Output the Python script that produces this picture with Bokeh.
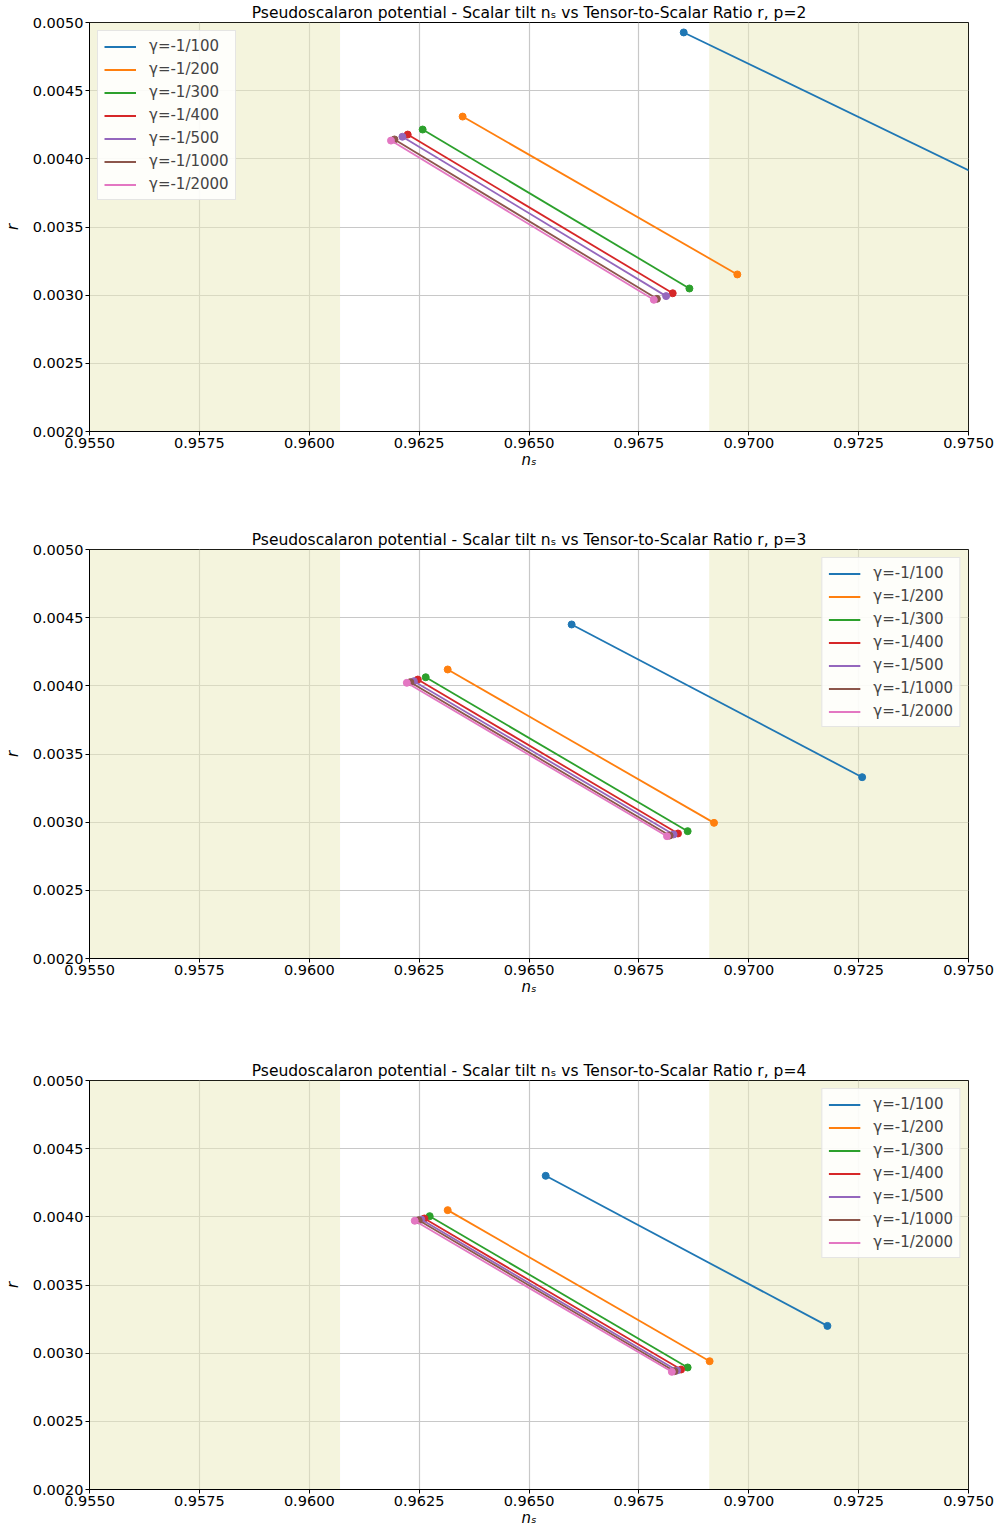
from bokeh.plotting import figure
from bokeh.layouts import column
from bokeh.models import Range1d, FixedTicker, PrintfTickFormatter, Legend, LegendItem, Title
from bokeh.embed import file_html
from bokeh.resources import INLINE

# ---------------- data ----------------
labels = ["γ=-1/100", "γ=-1/200", "γ=-1/300", "γ=-1/400", "γ=-1/500", "γ=-1/1000", "γ=-1/2000"]
colors = ["#1f77b4", "#ff7f0e", "#2ca02c", "#d62728", "#9467bd", "#8c564b", "#e377c2"]

# p = 2
ns_start_p2 = [0.96852, 0.96349, 0.96258, 0.96224, 0.96212, 0.96194, 0.96186]
r_start_p2 = [0.004927, 0.004310, 0.004215, 0.004178, 0.004162, 0.004142, 0.004134]
ns_end_p2 = [0.97600, 0.96974, 0.96865, 0.96827, 0.96812, 0.96791, 0.96784]
r_end_p2 = [0.003760, 0.003152, 0.003049, 0.003014, 0.002993, 0.002973, 0.002966]

# p = 3
ns_start_p3 = [0.96597, 0.96315, 0.96265, 0.96247, 0.96238, 0.96230, 0.96222]
r_start_p3 = [0.004450, 0.004120, 0.004063, 0.004046, 0.004034, 0.004027, 0.004022]
ns_end_p3 = [0.97258, 0.96921, 0.96861, 0.96839, 0.96829, 0.96820, 0.96814]
r_end_p3 = [0.003330, 0.002995, 0.002934, 0.002917, 0.002910, 0.002902, 0.002897]

# p = 4
ns_start_p4 = [0.96538, 0.96315, 0.96274, 0.96262, 0.96255, 0.96249, 0.96240]
r_start_p4 = [0.004301, 0.004049, 0.004005, 0.003988, 0.003980, 0.003975, 0.003971]
ns_end_p4 = [0.97179, 0.96911, 0.96861, 0.96846, 0.96837, 0.96831, 0.96825]
r_end_p4 = [0.003200, 0.002941, 0.002895, 0.002880, 0.002873, 0.002868, 0.002863]

# Planck band (excluded regions shaded)
planck_ns_low = 0.9607
planck_ns_high = 0.9691
x_lo, x_hi = 0.955, 0.975
y_lo, y_hi = 0.002, 0.005
x_ticks = [0.9550, 0.9575, 0.9600, 0.9625, 0.9650, 0.9675, 0.9700, 0.9725, 0.9750]
y_ticks = [0.0020, 0.0025, 0.0030, 0.0035, 0.0040, 0.0045, 0.0050]

panels = [
    (2, ns_start_p2, r_start_p2, ns_end_p2, r_end_p2, "top_left"),
    (3, ns_start_p3, r_start_p3, ns_end_p3, r_end_p3, "top_right"),
    (4, ns_start_p4, r_start_p4, ns_end_p4, r_end_p4, "top_right"),
]

FRAME_W = 879
FRAME_H = 409
tops = [16, 70, 74]
bottoms = [48, 48, 34]

figs = []
for i, (pval, ns0, r0, ns1, r1, loc) in enumerate(panels):
    p = figure(frame_width=FRAME_W, frame_height=FRAME_H,
               output_backend="svg", toolbar_location=None,
               x_range=Range1d(x_lo, x_hi), y_range=Range1d(y_lo, y_hi),
               min_border_left=82, min_border_right=28,
               min_border_top=tops[i], min_border_bottom=bottoms[i])
    p.title = Title(text="Pseudoscalaron potential - Scalar tilt nₛ vs Tensor-to-Scalar Ratio r, p=%d" % pval,
                    align="center", text_font="DejaVu Sans", text_font_size="15.5px",
                    text_font_style="normal", text_color="#000000", standoff=2)
    # shaded excluded regions
    p.quad(left=[x_lo, planck_ns_high], right=[planck_ns_low, x_hi],
           bottom=[y_lo, y_lo], top=[y_hi, y_hi],
           fill_color="#e9e9bb", fill_alpha=0.5, line_color=None)

    items = []
    for k in range(len(labels)):
        ln = p.line([ns0[k], ns1[k]], [r0[k], r1[k]], line_color=colors[k], line_width=1.8)
        p.scatter([ns0[k], ns1[k]], [r0[k], r1[k]], size=7, fill_color=colors[k],
                  line_color=colors[k])
        items.append(LegendItem(label=labels[k], renderers=[ln]))

    legend = Legend(items=items, location=loc, label_text_font="DejaVu Sans",
                    label_text_font_size="15px", label_height=17, glyph_height=17,
                    glyph_width=32, spacing=5, padding=6, margin=8,
                    border_line_color="#cccccc", background_fill_color="white",
                    background_fill_alpha=0.85, label_standoff=13)
    p.add_layout(legend, "center")

    for ax in (p.xaxis, p.yaxis):
        ax.major_tick_out = 4
        ax.major_tick_in = 0
        ax.minor_tick_out = 0
        ax.minor_tick_in = 0
        ax.major_label_standoff = 2
        ax.major_label_text_font = "DejaVu Sans"
        ax.major_label_text_font_size = "14.5px"
        ax.major_label_text_color = "#000000"
        ax.axis_label_text_font = "DejaVu Sans"
        ax.axis_label_text_font_size = "15px"
        ax.axis_label_text_font_style = "italic"
        ax.axis_label_text_color = "#000000"
        ax.axis_line_color = "#000000"
        ax.major_tick_line_color = "#000000"
    p.xaxis.ticker = FixedTicker(ticks=x_ticks)
    p.yaxis.ticker = FixedTicker(ticks=y_ticks)
    p.xaxis.formatter = PrintfTickFormatter(format="%.4f")
    p.yaxis.formatter = PrintfTickFormatter(format="%.4f")
    p.xaxis.axis_label = "nₛ"
    p.yaxis.axis_label = "r"
    p.xaxis.axis_label_standoff = 0
    p.yaxis.axis_label_standoff = 8

    p.xgrid.grid_line_color = "#c8c8c8"
    p.ygrid.grid_line_color = "#c8c8c8"
    p.xgrid.grid_line_width = 1.2
    p.ygrid.grid_line_width = 1.2
    p.outline_line_color = "#000000"
    p.outline_line_width = 1
    p.background_fill_color = "white"
    figs.append(p)

layout = column(*figs, spacing=0)
open("out.html", "w").write(file_html(layout, INLINE))
